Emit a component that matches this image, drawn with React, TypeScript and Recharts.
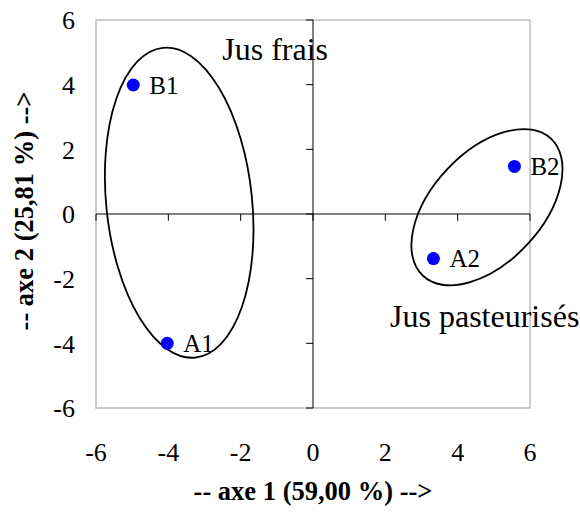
import React from "react";
import {
  ScatterChart,
  Scatter,
  XAxis,
  YAxis,
  ReferenceLine,
  ReferenceArea,
  Label,
} from "recharts";

// axis ticks
const axisTicks = [-6, -4, -2, 0, 2, 4, 6];

// samples on the factorial plane
const sampleNames = ["B1", "A1", "B2", "A2"];
const sampleAxis1 = [-4.97, -4.03, 5.57, 3.33];
const sampleAxis2 = [3.99, -4.0, 1.47, -1.38];

// groups (ellipse centre + semi-axis vectors, data units)
const groupNames = ["Jus frais", "Jus pasteurisés"];
const groupCenterX = [-3.7, 4.81];
const groupCenterY = [0.35, 0.21];
const groupMajor = [
  [-0.45, 4.79],
  [1.77, 2.12],
];
const groupMinor = [
  [2.005, 0.235],
  [1.11, -1.16],
];
const groupLabelX = [-2.51, 2.13];
const groupLabelY = [4.77, -3.49];

const WIDTH = 580;
const HEIGHT = 514;
const MARGIN = { top: 20, right: 50, bottom: 46, left: 0 };
const Y_AXIS_W = 96;
const X_AXIS_H = 60;
const DOMAIN: [number, number] = [-6, 6];
const PX_X = (WIDTH - MARGIN.left - MARGIN.right - Y_AXIS_W) / (DOMAIN[1] - DOMAIN[0]);
const PX_Y = (HEIGHT - MARGIN.top - MARGIN.bottom - X_AXIS_H) / (DOMAIN[1] - DOMAIN[0]);

const FONT = "'Liberation Serif', 'Times New Roman', serif";

const samples = sampleNames.map((name, i) => ({
  name,
  x: sampleAxis1[i],
  y: sampleAxis2[i],
}));

const ellipses = groupNames.map((name, i) => ({
  name,
  x: groupCenterX[i],
  y: groupCenterY[i],
  u: groupMajor[i],
  v: groupMinor[i],
}));

const groupLabels = groupNames.map((name, i) => ({
  name,
  x: groupLabelX[i],
  y: groupLabelY[i],
}));

const SamplePoint = (props: any) => {
  const { cx, cy, payload } = props;
  return (
    <g>
      <circle cx={cx} cy={cy} r={6.5} fill="#0000FF" />
      <text
        x={cx + 16}
        y={cy}
        dy="0.35em"
        fontFamily={FONT}
        fontSize={25}
        fill="#000"
      >
        {payload.name}
      </text>
    </g>
  );
};

const GroupEllipse = (props: any) => {
  const { cx, cy, payload } = props;
  const [ux, uy] = payload.u;
  const [vx, vy] = payload.v;
  const m = `matrix(${ux * PX_X} ${-uy * PX_Y} ${vx * PX_X} ${-vy * PX_Y} ${cx} ${cy})`;
  return (
    <circle
      cx={0}
      cy={0}
      r={1}
      transform={m}
      fill="none"
      stroke="#000"
      strokeWidth={1.8}
      vectorEffect="non-scaling-stroke"
    />
  );
};

const GroupLabel = (props: any) => {
  const { cx, cy, payload } = props;
  return (
    <text x={cx} y={cy} fontFamily={FONT} fontSize={32} fill="#000">
      {payload.name}
    </text>
  );
};

export default function App() {
  return (
    <div style={{ position: "absolute", left: 0, top: 0, background: "#fff" }}>
      <ScatterChart width={WIDTH} height={HEIGHT} margin={MARGIN}>
        <XAxis
          type="number"
          dataKey="x"
          domain={DOMAIN}
          ticks={axisTicks}
          axisLine={false}
          tickLine={false}
          tickSize={0}
          tickMargin={35}
          height={X_AXIS_H}
          tick={{ fontFamily: FONT, fontSize: 26, fill: "#000" }}
        >
          <Label
            value="-- axe 1 (59,00 %) -->"
            position="center"
            dy={53}
            style={{ fontFamily: FONT, fontSize: 26.5, fontWeight: "bold", fill: "#000" }}
          />
        </XAxis>
        <YAxis
          type="number"
          dataKey="y"
          domain={DOMAIN}
          ticks={axisTicks}
          axisLine={false}
          tickLine={false}
          tickSize={0}
          tickMargin={21}
          width={Y_AXIS_W}
          tick={{ fontFamily: FONT, fontSize: 26, fill: "#000" }}
        >
          <Label
            value="-- axe 2 (25,81 %) -->"
            position="center"
            angle={-90}
            dx={-24}
            dy={-3}
            style={{ fontFamily: FONT, fontSize: 26.5, fontWeight: "bold", fill: "#000" }}
          />
        </YAxis>
        <ReferenceArea
          x1={-6}
          x2={6}
          y1={-6}
          y2={6}
          fill="none"
          stroke="#bdbdbd"
          strokeWidth={1.5}
        />
        <ReferenceLine y={0} stroke="#000" strokeWidth={1} />
        <ReferenceLine x={0} stroke="#000" strokeWidth={1} />
        {axisTicks.map((t) => (
          <ReferenceLine
            key={`xt${t}`}
            segment={[
              { x: t, y: 0 },
              { x: t, y: -0.21 },
            ]}
            stroke="#000"
            strokeWidth={1}
          />
        ))}
        {axisTicks.map((t) => (
          <ReferenceLine
            key={`yt${t}`}
            segment={[
              { x: -0.19, y: t },
              { x: 0, y: t },
            ]}
            stroke="#000"
            strokeWidth={1}
          />
        ))}
        <Scatter data={ellipses} shape={GroupEllipse} isAnimationActive={false} />
        <Scatter data={groupLabels} shape={GroupLabel} isAnimationActive={false} />
        <Scatter data={samples} shape={SamplePoint} isAnimationActive={false} />
      </ScatterChart>
    </div>
  );
}
